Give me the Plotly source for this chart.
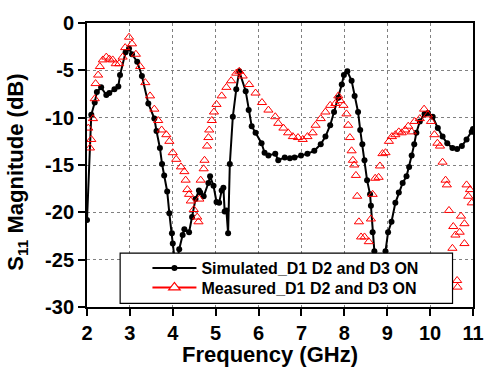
import plotly.graph_objects as go

# Simulated S11 (dB) vs frequency (GHz)
sim_freq = [2.00, 2.10, 2.18, 2.23, 2.33, 2.45, 2.52, 2.64, 2.73, 2.77, 2.90, 2.98,
            3.05, 3.17, 3.28, 3.43, 3.57, 3.62, 3.70, 3.75, 3.80, 3.87, 3.92, 3.98,
            4.00, 4.07, 4.15, 4.23, 4.27, 4.38, 4.45, 4.53, 4.61, 4.64, 4.72, 4.83,
            4.87, 4.95, 5.02, 5.08, 5.14, 5.18, 5.21, 5.25, 5.29, 5.33, 5.40, 5.48,
            5.55, 5.70, 5.77, 5.84, 5.93, 6.07, 6.14, 6.23, 6.39, 6.46, 6.61, 6.73,
            6.84, 6.99, 7.14, 7.30, 7.45, 7.56, 7.67, 7.76, 7.86, 7.94, 7.99, 8.07,
            8.17, 8.24, 8.32, 8.37, 8.42, 8.47, 8.53, 8.60, 8.62, 8.66, 8.70, 8.80,
            8.96, 9.02, 9.10, 9.19, 9.27, 9.36, 9.45, 9.51, 9.57, 9.63, 9.68, 9.76,
            9.87, 9.95, 10.06, 10.18, 10.29, 10.40, 10.52, 10.63, 10.74, 10.85, 10.97, 11.00]
sim_s11 = [-20.8, -9.7, -8.4, -7.3, -6.8, -7.6, -7.4, -7.0, -6.7, -5.5, -3.1, -2.7,
           -3.3, -4.1, -5.6, -8.5, -10.1, -11.4, -13.2, -14.9, -16.1, -17.8, -20.1, -22.2,
           -23.3, -26.0, -23.9, -22.4, -21.8, -22.1, -20.5, -18.6, -17.7, -17.9, -18.3, -16.9,
           -16.2, -17.2, -18.9, -19.0, -17.7, -17.4, -19.9, -19.8, -22.2, -14.9, -9.9, -7.0,
           -5.1, -7.2, -9.2, -10.9, -11.6, -12.7, -13.7, -14.0, -13.8, -14.5, -14.2, -14.3,
           -14.2, -14.0, -13.8, -13.5, -12.8, -12.0, -10.8, -9.4, -7.9, -6.5, -5.5, -5.1,
           -6.1, -7.7, -9.4, -11.3, -12.8, -14.5, -16.6, -18.1, -19.3, -22.1, -24.1, -28.0,
           -24.1, -22.1, -21.0, -19.0, -17.9, -16.9, -16.2, -15.2, -14.0, -12.8, -11.6, -10.4,
           -9.6, -9.5, -9.9, -11.1, -12.0, -12.7, -13.2, -13.3, -13.0, -12.3, -11.5, -11.2]

# Measured S11 (dB) vs frequency (GHz)
meas_freq = [2.03, 2.07, 2.10, 2.14, 2.18, 2.20, 2.26, 2.30, 2.37, 2.45, 2.52, 2.60,
             2.67, 2.75, 2.83, 2.89, 2.98, 3.05, 3.14, 3.24, 3.36, 3.47, 3.57, 3.66,
             3.74, 3.85, 3.92, 4.00, 4.08, 4.19, 4.27, 4.30, 4.34, 4.38, 4.42, 4.49,
             4.57, 4.60, 4.62, 4.65, 4.72, 4.74, 4.80, 4.83, 4.85, 4.91, 4.96, 5.02,
             5.14, 5.25, 5.36, 5.48, 5.55, 5.63, 5.78, 5.93, 6.08, 6.23, 6.39, 6.46,
             6.58, 6.69, 6.80, 6.92, 7.03, 7.14, 7.26, 7.33, 7.45, 7.56, 7.67, 7.79,
             7.86, 7.90, 7.98, 8.05, 8.09, 8.13, 8.17, 8.20, 8.23, 8.27, 8.30, 8.34,
             8.39, 8.47, 8.57, 8.62, 8.66, 8.72, 8.80, 8.83, 8.89, 8.96, 9.04, 9.11,
             9.19, 9.27, 9.34, 9.42, 9.49, 9.57, 9.64, 9.76, 9.86, 9.95, 10.02, 10.10,
             10.17, 10.23, 10.29, 10.36, 10.39, 10.44, 10.52, 10.54, 10.59, 10.63, 10.64, 10.69,
             10.72, 10.80, 10.80, 10.85, 10.89, 10.93, 10.97]
meas_s11 = [-11.1, -13.2, -12.3, -10.1, -8.0, -6.4, -5.5, -4.6, -3.9, -3.6, -3.8, -3.9,
            -4.3, -4.3, -3.6, -2.6, -1.5, -2.2, -3.3, -4.6, -6.3, -7.7, -9.1, -10.3,
            -11.3, -11.8, -12.5, -13.7, -14.4, -15.2, -15.7, -16.6, -17.6, -18.1, -18.8, -19.7,
            -20.5, -21.0, -18.6, -16.6, -15.4, -14.5, -13.0, -12.1, -11.3, -10.3, -9.4, -8.6,
            -7.7, -6.8, -6.1, -5.3, -5.1, -5.6, -6.5, -7.4, -8.4, -9.2, -9.9, -10.6,
            -11.1, -11.6, -12.0, -12.1, -12.3, -12.0, -11.6, -10.8, -10.1, -9.4, -8.7, -8.5,
            -7.7, -8.2, -8.7, -9.6, -10.8, -12.1, -13.5, -14.5, -15.0, -16.1, -18.3, -21.0,
            -22.6, -22.6, -23.1, -20.7, -18.1, -16.4, -16.3, -15.1, -13.8, -13.7, -12.5, -12.0,
            -11.8, -11.5, -11.6, -11.3, -10.9, -11.5, -10.4, -10.1, -9.1, -9.7, -10.4, -11.8,
            -12.7, -13.0, -14.7, -16.6, -17.1, -19.8, -23.8, -21.5, -22.4, -27.2, -27.9, -22.1,
            -20.4, -23.3, -21.2, -17.1, -18.3, -17.6, -19.0]

x_ticks = [2, 3, 4, 5, 6, 7, 8, 9, 10, 11]
y_ticks = [-30, -25, -20, -15, -10, -5, 0]

sim_name = "Simulated_D1 D2 and D3 ON"
meas_name = "Measured_D1 D2 and D3 ON"

FONT = "Arial, 'Liberation Sans', sans-serif"

fig = go.Figure()

fig.add_trace(go.Scatter(
    x=sim_freq, y=sim_s11, mode="lines+markers", name=sim_name, legend="legend",
    line=dict(color="black", width=2),
    marker=dict(symbol="circle", size=6, color="black"),
))
fig.add_trace(go.Scatter(
    x=meas_freq, y=meas_s11, mode="markers", name=meas_name, showlegend=False,
    marker=dict(symbol="triangle-up-open", size=8, color="red", line=dict(width=1, color="red")),
))
# legend entry for measured (line + triangle)
fig.add_trace(go.Scatter(
    x=[None], y=[None], mode="lines+markers", name=meas_name, legend="legend2",
    line=dict(color="red", width=2),
    marker=dict(symbol="triangle-up", size=10, color="white", line=dict(width=1.2, color="red")),
))

axis_common = dict(
    showline=True, linecolor="black", linewidth=2, mirror=True,
    ticks="outside", ticklen=7, tickwidth=2, tickcolor="black",
    showgrid=True, gridcolor="#808080", gridwidth=1, griddash="3px,3px",
    zeroline=False,
    tickfont=dict(family=FONT, size=20, color="black", weight="bold"),
)

fig.update_xaxes(range=[2, 11], tickvals=x_ticks, ticktext=[str(v) for v in x_ticks], **axis_common)
fig.update_yaxes(range=[-30, 0], tickvals=y_ticks, ticktext=[str(v) for v in y_ticks], **axis_common)

fig.add_annotation(
    text="Frequency (GHz)", xref="paper", yref="paper", x=(275 - 87) / 396, y=-(356 - 307) / 292,
    xanchor="center", yanchor="middle", showarrow=False,
    font=dict(family=FONT, size=22, color="black", weight="bold"),
)
fig.add_annotation(
    text="S<sub>11</sub> Magnitude (dB)", xref="paper", yref="paper", x=-(87 - 15) / 396, y=(307 - 168) / 292,
    xanchor="center", yanchor="middle", textangle=-90, showarrow=False,
    font=dict(family=FONT, size=22, color="black", weight="bold"),
)

# legend box
fig.add_shape(
    type="rect", xref="paper", yref="paper", layer="above",
    x0=(121 - 87) / 396, x1=(462 - 87) / 396, y0=(307 - 303.3) / 292, y1=(307 - 251.7) / 292,
    fillcolor="white", line=dict(color="black", width=1.2),
)

legend_common = dict(
    xanchor="left", yanchor="middle",
    bgcolor="rgba(0,0,0,0)", borderwidth=0, itemwidth=44,
    font=dict(family=FONT, size=16, color="black", weight="bold"),
)

fig.update_layout(
    width=496, height=371,
    margin=dict(l=87, r=13, t=15, b=64),
    paper_bgcolor="white", plot_bgcolor="white",
    showlegend=True,
    legend=dict(x=(149 - 87) / 396, y=(307 - 267) / 292, **legend_common),
    legend2=dict(x=(149 - 87) / 396, y=(307 - 287) / 292, **legend_common),
)

fig.write_html(
    "out.html",
    config={"displayModeBar": False},
    post_script="document.body.style.margin='0';document.body.style.padding='0';",
)
